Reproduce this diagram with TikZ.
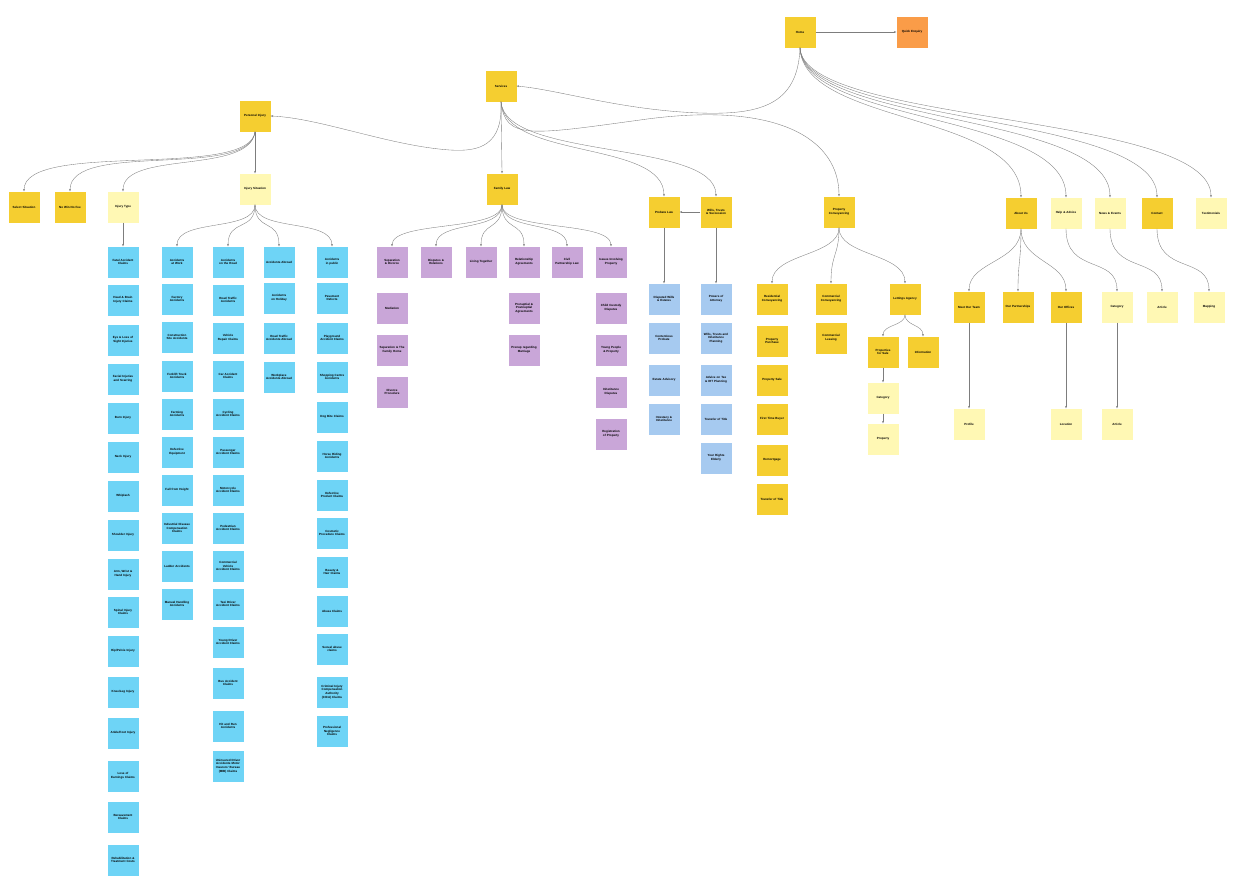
\documentclass[tikz,border=0pt]{standalone}
\usepackage{fontspec}
\setmainfont{Liberation Sans}
\usetikzlibrary{arrows.meta,calc}
\definecolor{dy}{RGB}{245,206,48}
\definecolor{ly}{RGB}{255,248,180}
\definecolor{bl}{RGB}{110,212,246}
\definecolor{pu}{RGB}{201,166,216}
\definecolor{lb}{RGB}{166,202,240}
\definecolor{og}{RGB}{250,156,72}
\definecolor{ln}{RGB}{125,125,125}
\hyphenpenalty=10000
\exhyphenpenalty=10000
\begin{document}
\begin{tikzpicture}[x=1pt,y=-1pt,
  note/.style={minimum width=31pt,minimum height=31pt,inner sep=0.5pt,text width=26pt,align=center,font=\fontsize{3}{3.6}\selectfont\bfseries},
  dnote/.style={note,fill=dy},
  lnote/.style={note,fill=ly},
  bnote/.style={note,fill=bl},
  pnote/.style={note,fill=pu},
  lbnote/.style={note,fill=lb},
  onote/.style={note,fill=og},
  conn/.style={draw=ln,line width=0.35pt,-{Stealth[length=2.4pt,width=1.9pt]}}]
\fill[white] (0,0) rectangle (1250,895);
\useasboundingbox (0,0) rectangle (1250,895);

% ---- top ----
\node[dnote] (home) at (800,32) {Home};
\node[onote] (send) at (912,32) {Quick Enquiry};
\node[dnote] (services) at (501,86) {Services};
\node[dnote] (pi) at (255,116) {Personal Injury};
\node[dnote] (fam) at (502,189) {Family Law};

% ---- personal injury ----
\node[dnote] (sel) at (24,207) {Select Situation};
\node[dnote] (nowin) at (70,207) {No Win No Fee};
\node[lnote] (itype) at (123,207) {Injury Type};
\node[lnote] (isit) at (255,189) {Injury Situation};

\foreach \y/\t [count=\i] in {262/{Fatal Accident Claims},300/{Head \& Brain Injury Claims},340/{Eye \& Loss of Sight Injuries},379/{Facial Injuries and Scarring},418/{Burn Injury},457/{Neck Injury},496/{Whiplash},535/{Shoulder Injury},574/{Arm, Wrist \& Hand Injury},612/{Spinal Injury Claims},651/{Hip/Pelvis Injury},692/{Knee/Leg Injury},733/{Ankle/Foot Injury},776/{Loss of Earnings Claims},817/{Bereavement Claims},860/{Rehabilitation \& Treatment Costs}}
  \node[bnote] (ta\i) at (123,\y) {\t};

\foreach \y/\t [count=\i] in {262/{Accidents at Work},299/{Factory Accidents},337/{Construction Site Accidents},376/{Forklift Truck Accidents},414/{Farming Accidents},452/{Defective Equipment},490/{Fall from Height},528/{Industrial Disease Compensation Claims},566/{Ladder Accidents},604/{Manual Handling Accidents}}
  \node[bnote] (wa\i) at (177,\y) {\t};

\foreach \y/\t [count=\i] in {262/{Accidents on the Road},300/{Road Traffic Accidents},338/{Vehicle Repair Claims},376/{Car Accident Claims},414/{Cycling Accident Claims},452/{Passenger Accident Claims},490/{Motorcycle Accident Claims},528/{Pedestrian Accident Claims},566/{Commercial Vehicle Accident Claims},604/{Taxi Driver Accident Claims},642/{Young Driver Accident Claims},683/{Bus Accident Claims},726/{Hit and Run Accidents},766/{Uninsured Driver Accidents Motor Insurers' Bureau (MIB) Claims}}
  \node[bnote] (ra\i) at (228,\y) {\t};

\foreach \y/\t [count=\i] in {262/{Accidents Abroad},298/{Accidents on Holiday},338/{Road Traffic Accidents Abroad},377/{Workplace Accidents Abroad}}
  \node[bnote] (aa\i) at (279,\y) {\t};

\foreach \y/\t [count=\i] in {262/{Accidents in public},298/{Pavement Defects},338/{Playground Accident Claims},377/{Shopping Centre Accidents},417/{Dog Bite Claims},456/{Horse Riding Accidents},495/{Defective Product Claims},533/{Cosmetic Procedure Claims},572/{Beauty \& Hair Claims},611/{Abuse Claims},649/{Sexual abuse claims},692/{Criminal Injury Compensation Authority (CICA) Claims},731/{Professional Negligence Claims}}
  \node[bnote] (pa\i) at (332,\y) {\t};

% ---- family law ----
\foreach \y/\t [count=\i] in {262/{Separation \& Divorce},308/{Mediation},350/{Separation \& The Family Home},392/{Divorce Procedure}}
  \node[pnote] (fa\i) at (392,\y) {\t};
\node[pnote] (fb1) at (436,262) {Disputes \& Relations};
\node[pnote] (fc1) at (481,262) {Living Together};
\foreach \y/\t [count=\i] in {262/{Relationship Agreements},308/{Prenuptial \& Postnuptial Agreements},350/{Prenup regarding Marriage}}
  \node[pnote] (fd\i) at (524,\y) {\t};
\node[pnote] (fe1) at (567,262) {Civil Partnership Law};
\foreach \y/\t [count=\i] in {262/{Issues Involving Property},308/{Child Custody Disputes},350/{Young People \& Property},392/{Inheritance Disputes},434/{Registration of Property}}
  \node[pnote] (ff\i) at (611,\y) {\t};

% ---- probate / wills ----
\node[dnote] (probate) at (664,212) {Probate Law};
\node[dnote] (wills) at (716,212) {Wills, Trusts \& Succession};
\foreach \y/\t [count=\i] in {299/{Disputed Wills \& Estates},338/{Contentious Probate},380/{Estate Advisory},419/{Intestacy \& Inheritance}}
  \node[lbnote] (pb\i) at (664,\y) {\t};
\foreach \y/\t [count=\i] in {299/{Powers of Attorney},338/{Wills, Trusts and Inheritance Planning},380/{Advice on Tax \& IHT Planning},419/{Transfer of Title},458/{Your Rights Elderly}}
  \node[lbnote] (wl\i) at (716,\y) {\t};

% ---- property ----
\node[dnote] (prop) at (839,212) {Property Conveyancing};
\foreach \y/\t [count=\i] in {299/{Residential Conveyancing},341/{Property Purchase},380/{Property Sale},419/{First Time Buyer},460/{Remortgage},499/{Transfer of Title}}
  \node[dnote] (rc\i) at (772,\y) {\t};
\node[dnote] (cc1) at (831,299) {Commercial Conveyancing};
\node[dnote] (cc2) at (831,338) {Commercial Leasing};
\node[dnote] (let) at (905,299) {Lettings Agency};
\node[dnote] (pfs) at (883,352) {Properties for Sale};
\node[dnote] (info) at (923,352) {Information};
\node[lnote] (pcat) at (883,398) {Category};
\node[lnote] (pprop) at (883,439) {Property};

% ---- right ----
\node[dnote] (about) at (1021,213) {About Us};
\node[lnote] (help) at (1066,213) {Help \& Advice};
\node[lnote] (news) at (1110,213) {News \& Events};
\node[dnote] (contact) at (1157,213) {Contact};
\node[lnote] (testi) at (1211,213) {Testimonials};
\node[dnote] (team) at (969,307) {Meet Our Team};
\node[dnote] (partn) at (1018,307) {Our Partnerships};
\node[dnote] (offices) at (1066,307) {Our Offices};
\node[lnote] (hcat) at (1117,307) {Category};
\node[lnote] (narticle) at (1162,307) {Article};
\node[lnote] (mapping) at (1209,307) {Mapping};
\node[lnote] (profile) at (969,424) {Profile};
\node[lnote] (location) at (1066,424) {Location};
\node[lnote] (harticle) at (1117,424) {Article};

% ---- connectors ----
\draw[conn] (home.east) -- (send.west);
\draw[conn] (home.south) .. controls (798,105) and (760,115) .. (700,113) .. controls (620,110) and (560,90) .. (services.east);
\foreach \t in {about,help,news,contact,testi}
  \draw[conn] (home.south) .. controls (803,125) and ($(\t.north)+(0,-85)$) .. (\t.north);

\draw[conn] (services.south) .. controls (503,145) and (480,152) .. (450,150) .. controls (390,146) and (320,118) .. (pi.east);
\draw[conn] (services.south) -- (fam.north);
\draw[conn] (services.south) .. controls (505,160) and (664,140) .. (probate.north);
\draw[conn] (services.south) .. controls (505,160) and (716,140) .. (wills.north);
\draw[conn] (services.south) .. controls (505,140) and (530,135) .. (640,120) .. controls (780,100) and (839,140) .. (prop.north);

\draw[conn] (pi.south) .. controls (250,180) and (24,140) .. (sel.north);
\draw[conn] (pi.south) .. controls (250,180) and (70,140) .. (nowin.north);
\draw[conn] (pi.south) .. controls (250,175) and (123,150) .. (itype.north);
\draw[conn] (pi.south) -- (isit.north);

\draw[conn] (itype.south) -- (ta1.north);
\foreach \t in {wa1,ra1,aa1,pa1}
  \draw[conn] (isit.south) .. controls (255,232) and ($(\t.north)+(0,-28)$) .. (\t.north);

\foreach \t in {fa1,fb1,fc1,fd1,fe1,ff1}
  \draw[conn] (fam.south) .. controls (502,232) and ($(\t.north)+(0,-26)$) .. (\t.north);

\draw[conn] (wills.west) -- (probate.east);
\draw[conn] (probate.south) -- (pb1.north);
\draw[conn] (wills.south) -- (wl1.north);

\foreach \t in {rc1,cc1,let}
  \draw[conn] (prop.south) .. controls (839,256) and ($(\t.north)+(0,-30)$) .. (\t.north);
\foreach \t in {pfs,info}
  \draw[conn] (let.south) .. controls (905,326) and ($(\t.north)+(0,-12)$) .. (\t.north);
\draw[conn] (pfs.south) -- (pcat.north);
\draw[conn] (pcat.south) -- (pprop.north);

\foreach \t in {team,partn,offices}
  \draw[conn] (about.south) .. controls (1021,262) and ($(\t.north)+(0,-30)$) .. (\t.north);
\draw[conn] (help.south) .. controls (1066,275) and (1117,255) .. (hcat.north);
\draw[conn] (news.south) .. controls (1110,275) and (1162,255) .. (narticle.north);
\draw[conn] (contact.south) .. controls (1157,275) and (1209,255) .. (mapping.north);
\draw[conn] (team.south) -- (profile.north);
\draw[conn] (offices.south) -- (location.north);
\draw[conn] (hcat.south) -- (harticle.north);
\end{tikzpicture}
\end{document}
